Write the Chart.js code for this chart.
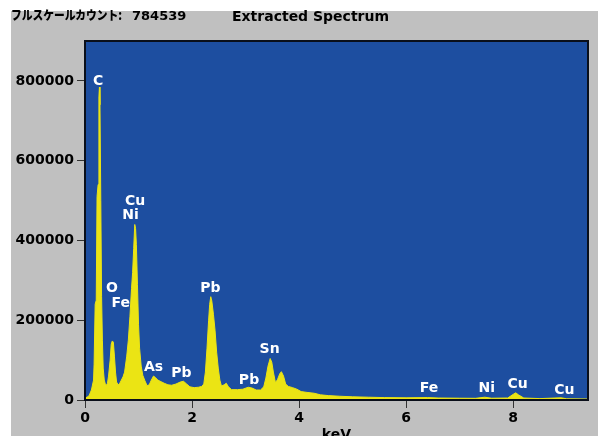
<!DOCTYPE html>
<html><head><meta charset="utf-8">
<script src="https://cdn.jsdelivr.net/npm/chart.js@4.4.1/dist/chart.umd.min.js"></script>
<style>
html,body{margin:0;padding:0;width:598px;height:436px;overflow:hidden;background:#fff;}
#panel{position:absolute;left:11px;top:11px;width:587px;height:425px;background:#c0c0c0;}
#c{position:absolute;left:0;top:0;}
.t{position:absolute;top:8px;line-height:16px;font-family:'DejaVu Sans';font-weight:bold;font-size:14px;color:#000;white-space:nowrap;}
</style></head><body>
<div id="panel"></div>
<canvas id="c" width="598" height="450"></canvas>
<div class="t" style="left:11px;top:7px;font-family:'Noto Sans CJK JP';font-weight:900;font-size:12.5px;transform:scaleX(0.86);transform-origin:left center;">フルスケールカウント:</div>
<div class="t" style="left:132px;font-size:13px;">784539</div>
<div class="t" style="left:232px">Extracted Spectrum</div>
<script>
const energyKeV = [0.01,0.05,0.08,0.12,0.16,0.17,0.19,0.21,0.225,0.245,0.26,0.27,0.28,0.295,0.31,0.325,0.34,0.36,0.38,0.40,
0.42,0.44,0.47,0.49,0.51,0.53,0.55,0.57,0.59,0.62,0.65,0.68,0.71,0.74,0.78,0.81,0.84,0.87,0.89,0.91,
0.93,0.945,0.96,0.98,1.00,1.02,1.05,1.08,1.12,1.16,1.20,1.24,1.28,1.32,1.36,1.42,1.48,1.55,1.62,1.70,
1.78,1.84,1.90,1.96,2.04,2.12,2.18,2.22,2.25,2.28,2.31,2.33,2.35,2.37,2.40,2.43,2.46,2.49,2.52,2.55,
2.60,2.64,2.68,2.74,2.85,2.95,3.05,3.12,3.20,3.28,3.34,3.38,3.42,3.46,3.49,3.52,3.56,3.60,3.64,3.67,
3.71,3.75,3.80,3.88,3.96,4.04,4.15,4.28,4.40,4.55,4.75,5.0,5.3,5.6,6.0,6.4,6.6,7.0,7.3,7.47,
7.6,7.9,8.0,8.05,8.1,8.2,8.5,8.9,9.0,9.4];
const counts = [5000,8000,12000,25000,50000,90000,240000,250000,510000,540000,760000,784539,740000,500000,260000,150000,80000,50000,40000,37000,
42000,60000,100000,140000,148000,145000,110000,70000,45000,38000,42000,50000,58000,70000,110000,150000,210000,280000,320000,380000,
440000,430000,390000,290000,190000,130000,85000,62000,48000,36000,38000,50000,60000,56000,50000,46000,42000,38000,37000,40000,
45000,47000,40000,33000,31000,32000,34000,40000,70000,130000,200000,240000,259000,248000,215000,175000,120000,80000,50000,35000,
38000,42000,33000,26000,26000,27000,32000,30000,25000,25000,33000,55000,85000,104000,95000,70000,43000,52000,66000,71000,
60000,40000,34000,31000,27000,21000,19000,17000,13000,11000,9500,8000,7000,6000,5500,6000,5000,4500,4200,7000,
4500,5000,14000,18000,13000,5000,3500,5500,3000,2500];
const yTickValues = [0,200000,400000,600000,800000];
const xTickValues = [0,2,4,6,8];
const peakNames = ['C','Cu','Ni','O','Fe','As','Pb','Pb','Pb','Sn','Fe','Ni','Cu','Cu'];
const peakLabelKeV = [0.245,0.935,0.85,0.505,0.67,1.28,1.80,2.345,3.065,3.45,6.43,7.51,8.085,8.96];
const peakLabelCounts = [800000,497000,462000,280000,243000,82000,68000,280000,50000,127000,30000,30000,40000,25000];

const tickFont = {family:'DejaVu Sans', size:14, weight:'bold'};

const bgPlugin = {
  id:'bg',
  beforeDatasetsDraw(chart){
    const {ctx, chartArea:a} = chart;
    ctx.save();
    ctx.fillStyle = '#1d4ea0';
    ctx.fillRect(a.left, a.top, a.right-a.left, a.bottom-a.top);
    ctx.restore();
  },
  afterDatasetsDraw(chart){
    const {ctx, chartArea:a, scales} = chart;
    ctx.save();
    ctx.strokeStyle = '#0a0f1a';
    ctx.lineWidth = 2;
    ctx.strokeRect(a.left, a.top, a.right-a.left, a.bottom-a.top);
    ctx.fillStyle = '#ffffff';
    ctx.font = 'bold 14px "DejaVu Sans"';
    ctx.textAlign = 'center';
    ctx.textBaseline = 'middle';
    peakNames.forEach((n,i)=>{
      ctx.fillText(n, scales.x.getPixelForValue(peakLabelKeV[i]), scales.y.getPixelForValue(peakLabelCounts[i]));
    });
    ctx.restore();
  }
};

new Chart(document.getElementById('c'), {
  type:'line',
  data:{datasets:[{
    data: energyKeV.map((e,i)=>({x:e, y:counts[i]})),
    borderColor:'#ebe414', backgroundColor:'#ebe414', fill:'origin',
    pointRadius:0, borderWidth:1, tension:0
  }]},
  options:{
    responsive:false, animation:false,
    layout:{padding:{left:0, top:41, right:10, bottom:0}},
    plugins:{legend:{display:false}, tooltip:{enabled:false}},
    scales:{
      x:{type:'linear', min:0, max:9.4,
        afterBuildTicks:s=>{s.ticks = xTickValues.map(v=>({value:v}));},
        afterFit:s=>{s.height = 50;},
        ticks:{font:tickFont, color:'#000', padding:2, maxRotation:0, autoSkip:false, callback:v=>String(v)},
        grid:{drawOnChartArea:false, tickLength:8, color:'#333'},
        border:{display:false},
        title:{display:true, text:'keV', font:tickFont, color:'#000', padding:{top:0, bottom:6}}
      },
      y:{min:0, max:900000,
        afterBuildTicks:s=>{s.ticks = yTickValues.map(v=>({value:v}));},
        afterFit:s=>{s.width = 85;},
        ticks:{font:tickFont, color:'#000', padding:3, callback:v=>String(v)},
        grid:{drawOnChartArea:false, tickLength:8, color:'#333'},
        border:{display:false}
      }
    }
  },
  plugins:[bgPlugin]
});
</script>
</body></html>
